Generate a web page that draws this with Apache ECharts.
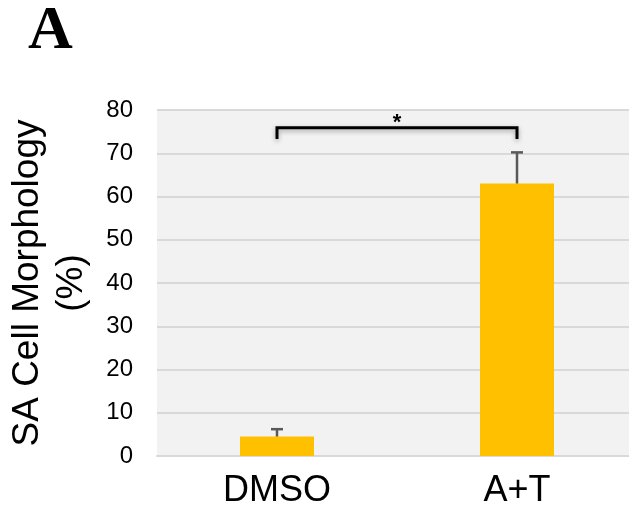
<!DOCTYPE html>
<html>
<head>
<meta charset="utf-8">
<script src="https://cdn.jsdelivr.net/npm/echarts@6/dist/echarts.min.js"></script>
<style>html,body{margin:0;padding:0;background:#fff}#c{width:629px;height:510px}</style>
</head>
<body>
<div id="c"></div>
<script>
var categories = ['DMSO', 'A+T'];
var values = [4.5, 63];
var errors = [1.7, 7.2];
var yMin = 0, yMax = 80, yInterval = 10;
var bracketFrom = 0, bracketTo = 1;
var bracketTop = 75.9, bracketEnd = 73.3;
var sigLabel = '*';
var panelLabel = 'A';
var yTitle = 'SA Cell Morphology\n(%)';

var chart = echarts.init(document.getElementById('c'), null, {renderer: 'canvas'});
var errData = categories.map(function (c, i) { return [i, values[i], values[i] + errors[i]]; });
var bracketData = [[bracketFrom, bracketTo, bracketTop, bracketEnd]];

chart.setOption({
  animation: false,
  backgroundColor: '#ffffff',
  graphic: [{
    type: 'text', left: 28, top: 1,
    style: {text: panelLabel, font: 'bold 62px "Liberation Serif", "Times New Roman", serif', fill: '#000'}
  }],
  grid: {left: 157, right: -8, top: 110, bottom: 54, show: true, backgroundColor: '#f2f2f2', borderWidth: 0,
         containLabel: false, outerBoundsMode: 'none'},
  xAxis: {
    type: 'category', data: categories,
    axisLine: {show: true, lineStyle: {color: '#d9d9d9', width: 2}},
    axisTick: {show: false},
    axisLabel: {color: '#000', fontSize: 36, fontFamily: '"Liberation Sans", Arial, sans-serif', margin: 17}
  },
  yAxis: {
    type: 'value', min: yMin, max: yMax, interval: yInterval,
    name: yTitle, nameLocation: 'middle', nameGap: 63,
    nameTextStyle: {color: '#000', fontSize: 37, lineHeight: 44, fontFamily: '"Liberation Sans", Arial, sans-serif'},
    axisLine: {show: false}, axisTick: {show: false},
    splitLine: {lineStyle: {color: '#d9d9d9', width: 2}},
    axisLabel: {color: '#000', fontSize: 24, fontFamily: '"Liberation Sans", Arial, sans-serif', margin: 24}
  },
  series: [{
    type: 'bar', data: values, barWidth: 74,
    itemStyle: {color: '#ffc000'}, z: 2
  }, {
    type: 'custom', data: errData, z: 3,
    renderItem: function (params, api) {
      var base = api.coord([api.value(0), api.value(1)]);
      var top = api.coord([api.value(0), api.value(2)]);
      var st = {stroke: '#595959', lineWidth: 2.5};
      return {type: 'group', children: [
        {type: 'line', shape: {x1: base[0], y1: base[1], x2: top[0], y2: top[1]}, style: st},
        {type: 'line', shape: {x1: top[0] - 6, y1: top[1], x2: top[0] + 6, y2: top[1]}, style: st}
      ]};
    }
  }, {
    type: 'custom', data: bracketData, z: 4,
    renderItem: function (params, api) {
      var a = api.coord([api.value(0), api.value(3)]);
      var b = api.coord([api.value(0), api.value(2)]);
      var c = api.coord([api.value(1), api.value(2)]);
      var d = api.coord([api.value(1), api.value(3)]);
      return {type: 'group', children: [
        {type: 'polyline', shape: {points: [a, b, c, d]},
         style: {stroke: '#000', lineWidth: 3, fill: null, shadowBlur: 5, shadowColor: 'rgba(0,0,0,0.35)', shadowOffsetY: 2}},
        {type: 'text', x: (b[0] + c[0]) / 2, y: b[1] + 6,
         style: {text: sigLabel, font: 'bold 22px "Liberation Sans", Arial, sans-serif', fill: '#000', align: 'center', verticalAlign: 'bottom'}}
      ]};
    }
  }]
});
</script>
</body>
</html>
